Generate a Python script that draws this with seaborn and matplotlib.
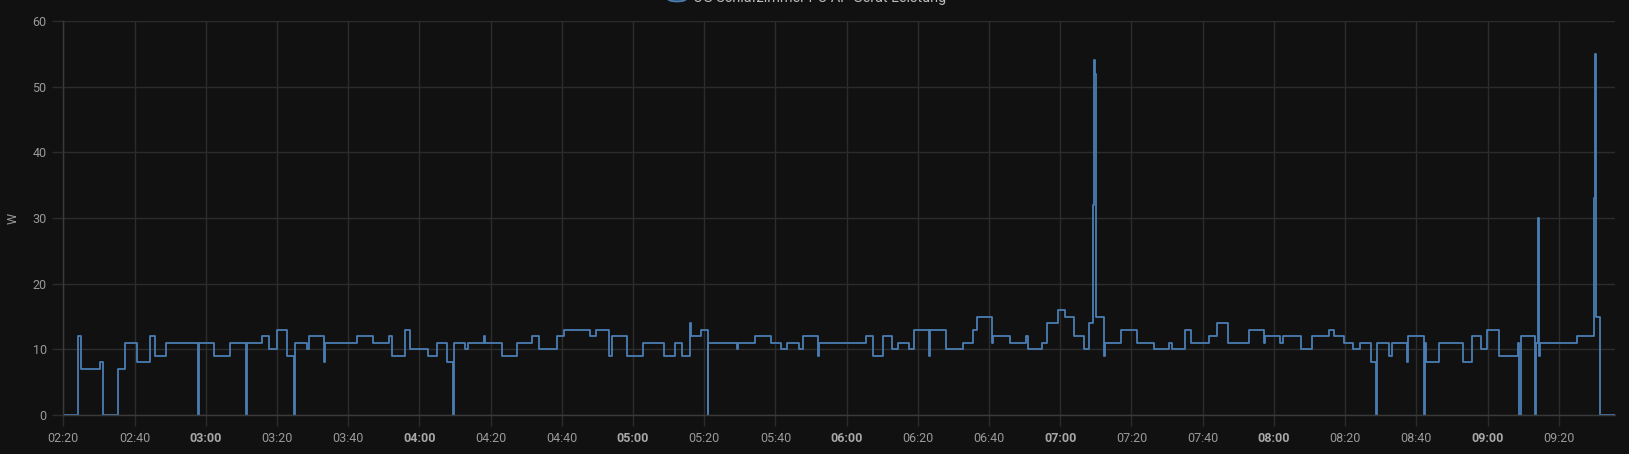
import numpy as np
import pandas as pd
import matplotlib
matplotlib.use("Agg")
import matplotlib.pyplot as plt
from matplotlib.patches import Circle
import seaborn as sns

# ---- data (minutes after 02:20, value in W; step held until next point) ----
start_time = "2024-01-01 02:20"
end_minute = 435.8
step_minutes = [
    0, 4.2, 5.1, 10.3, 11.1, 15.4, 17.2, 20.6, 24.4, 25.8, 28.8, 37.8, 38.0, 42.3,
    46.7, 51.3, 51.5, 55.7, 57.9, 60.1, 62.9, 64.8, 65.0, 68.4, 69.1, 73.2, 73.6,
    82.6, 86.9, 91.6, 92.2, 96.0, 97.4, 102.5, 104.9, 107.7, 109.5, 109.7, 112.8,
    113.8, 118.2, 118.4, 123.3, 127.3, 131.7, 133.6, 138.7, 140.6, 147.9, 149.5,
    153.3, 154.0, 158.4, 162.9, 168.7, 171.8, 173.9, 176.0, 176.2, 179.0, 181.0,
    181.2, 189.1, 189.6, 194.3, 198.8, 201.6, 203.2, 206.6, 207.7, 212.1, 212.3,
    225.4, 227.5, 230.1, 232.7, 234.5, 237.6, 239.0, 243.1, 243.3, 247.9, 252.6,
    255.4, 256.7, 260.7, 261.1, 265.9, 270.4, 270.8, 274.8, 276.2, 279.3, 281.3,
    283.9, 286.7, 288.2, 289.1, 289.4, 289.7, 289.9, 292.2, 292.6, 297.1, 301.6,
    306.4, 310.5, 311.5, 315.0, 316.6, 321.9, 323.9, 327.0, 332.9, 337.3, 337.5,
    341.7, 342.5, 347.6, 350.8, 355.4, 356.9, 359.8, 362.1, 364.2, 367.2, 368.7,
    368.9, 372.4, 373.1, 377.5, 377.8, 382.2, 382.4, 382.8, 386.5, 393.0, 395.6,
    398.2, 399.9, 403.3, 408.6, 408.9, 409.4, 413.3, 413.6, 414.3, 414.5, 414.8,
    425.1, 430.0, 430.2, 430.6, 431.6, 435.8,
]
watts = [
    0, 12, 7, 8, 0, 7, 11, 8, 12, 9, 11, 0, 11, 9,
    11, 0, 11, 12, 10, 13, 9, 0, 11, 10, 12, 8, 11,
    12, 11, 12, 9, 13, 10, 9, 11, 8, 0, 11, 10,
    11, 12, 11, 9, 11, 12, 10, 12, 13, 12, 13,
    9, 12, 9, 11, 9, 11, 9, 14, 12, 13, 0,
    11, 10, 11, 12, 11, 10, 11, 10, 12, 9, 11,
    12, 9, 12, 10, 11, 10, 13, 9, 13, 10, 11,
    13, 15, 11, 12, 11, 12, 10, 11, 14, 16, 15,
    12, 10, 14, 32, 54, 52, 15, 9, 11, 13, 11,
    10, 11, 10, 13, 11, 12, 14, 11, 13, 11, 12,
    11, 12, 10, 12, 13, 12, 11, 10, 11, 8, 0,
    11, 9, 11, 8, 12, 0, 11, 8, 11, 8, 12,
    10, 13, 9, 11, 0, 12, 0, 11, 30, 9, 11,
    12, 33, 55, 15, 0, 0,
]
tick_labels = ["02:20", "02:40", "03:00", "03:20", "03:40", "04:00", "04:20", "04:40",
               "05:00", "05:20", "05:40", "06:00", "06:20", "06:40", "07:00", "07:20",
               "07:40", "08:00", "08:20", "08:40", "09:00", "09:20"]
y_ticks = [0, 10, 20, 30, 40, 50, 60]
series_name = "OG Schlafzimmer PC-AP Gerät Leistung"
y_label = "W"

# ---- style ----
BG = "#111111"
GRID = "#2c2c2c"
TXT = "#9a9a9a"
LINE = "#4a7db2"

sns.set_theme(style="dark")
plt.rcParams["font.family"] = ["Roboto", "DejaVu Sans"]
plt.rcParams["figure.facecolor"] = BG
plt.rcParams["axes.facecolor"] = BG

base = pd.Timestamp(start_time)
df = pd.DataFrame({
    "time": base + pd.to_timedelta(step_minutes, unit="m"),
    "W": watts,
})

W_PX, H_PX = 1629, 454
fig = plt.figure(figsize=(W_PX / 100, H_PX / 100), dpi=100)
ax = fig.add_axes([63.3 / W_PX, 1 - 415 / H_PX, (1615 - 63.3) / W_PX, (415 - 21) / H_PX])
ax.set_facecolor(BG)

sns.lineplot(data=df, x="time", y="W", ax=ax, drawstyle="steps-post",
             estimator=None, sort=False, color=LINE, linewidth=1.3)

ax.set_xlim(base, base + pd.Timedelta(minutes=end_minute))
ax.set_ylim(0, 60)

tick_times = [pd.Timestamp(base.strftime("%Y-%m-%d") + " " + t) for t in tick_labels]
ax.set_xticks(tick_times)
ax.set_xticklabels(tick_labels)
ax.set_yticks(y_ticks)
ax.set_yticklabels([str(v) for v in y_ticks])

for lab, t in zip(ax.get_xticklabels(), tick_labels):
    if t.endswith(":00"):
        lab.set_fontweight("bold")
        lab.set_color("#a8a8a8")
    else:
        lab.set_color(TXT)
for lab in ax.get_yticklabels():
    lab.set_color(TXT)

ax.tick_params(axis="both", which="major", length=8, width=1, color=GRID,
               labelsize=9, pad=4, direction="out", bottom=True, left=True)
ax.grid(True, color=GRID, linewidth=1)
ax.set_axisbelow(True)
for s in ["top", "right"]:
    ax.spines[s].set_visible(False)
for s in ["left", "bottom"]:
    ax.spines[s].set_visible(True)
    ax.spines[s].set_color("#3a3a3a")
    ax.spines[s].set_linewidth(1)

ax.set_xlabel("")
ax.set_ylabel(y_label, color=TXT, fontsize=9)
ax.yaxis.set_label_coords((20 - 63.3) / (1615 - 63.3), 0.5)

# legend (cut off at the top edge, as in the reference)
fig.patches.append(Circle((677 / W_PX, 1 + 1 / H_PX), 9 / W_PX, transform=fig.transFigure,
                          facecolor="#34526f", edgecolor=LINE, linewidth=1.2))
fig.text(693 / W_PX, 1 + 2 / H_PX, series_name, color="#bdbdbd", fontsize=10.4,
         va="center", ha="left")

fig.savefig("out.png", dpi=100, facecolor=BG)
